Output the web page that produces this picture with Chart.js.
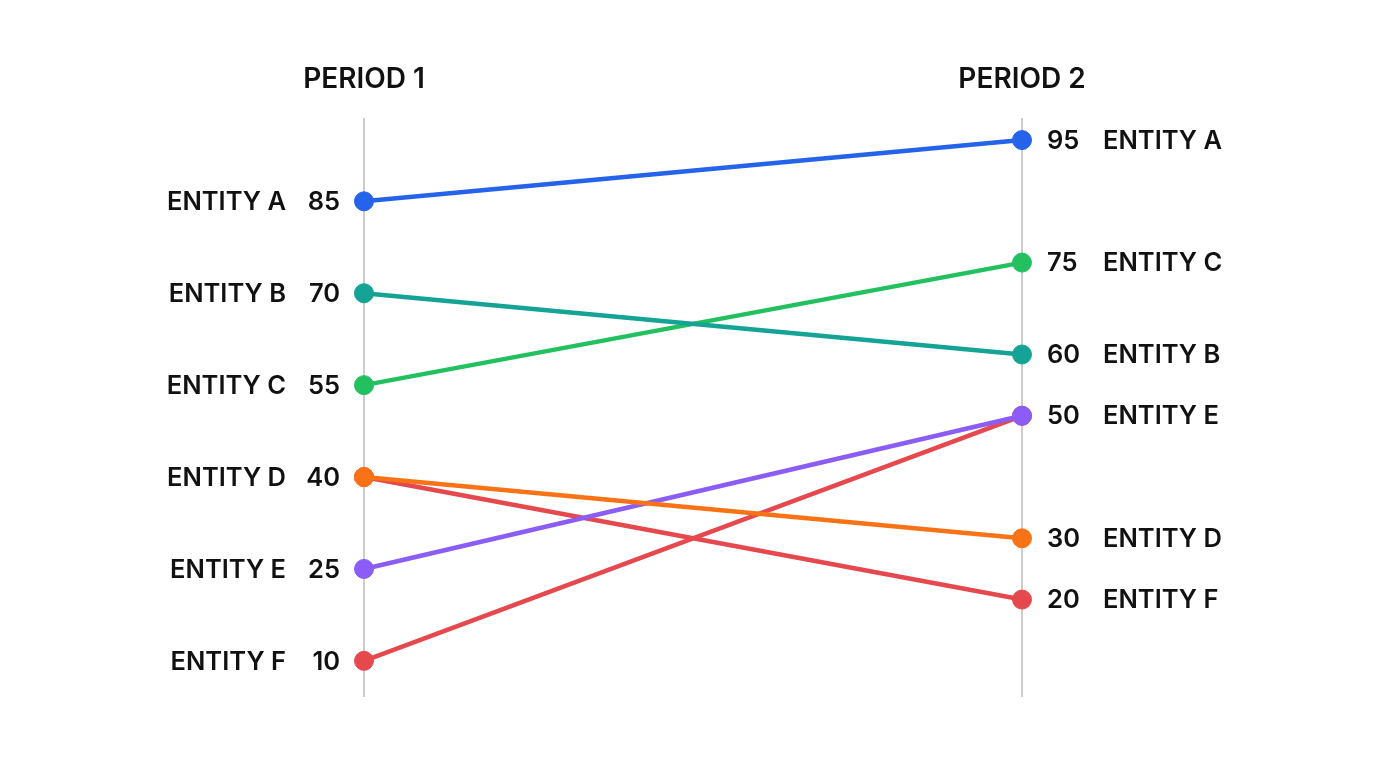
<!DOCTYPE html>
<html>
<head>
<meta charset="utf-8">
<script src="https://cdn.jsdelivr.net/npm/chart.js@4"></script>
<style>
  html, body { margin: 0; padding: 0; background: #ffffff; }
  #wrap { width: 1376px; height: 768px; position: relative; }
</style>
</head>
<body>
<div id="wrap"><canvas id="c"></canvas></div>
<script>
// ---- data ----
const periods = ['PERIOD 1', 'PERIOD 2'];
const entities = ['ENTITY A', 'ENTITY B', 'ENTITY C', 'ENTITY D', 'ENTITY E', 'ENTITY F'];
const period1Values = [85, 70, 55, 40, 25, 10];
const period2Values = [95, 60, 75, 30, 50, 20];
const seriesColors = ['#2563eb', '#14a394', '#22c05e', '#f97316', '#8b5cf6', '#e5484d'];
// the red line as it is drawn in the picture: 10 -> 50, then 40 -> 20 (gap between)
const entityFDrawnPeriod = [0, 1, null, 0, 1];
const entityFDrawnValues = [10, 50, null, 40, 20];

const datasets = entities.map((name, i) => {
  let data;
  if (i === 5) {
    data = entityFDrawnValues.map((v, k) => ({ x: entityFDrawnPeriod[k] === null ? 0.5 : entityFDrawnPeriod[k], y: v }));
  } else {
    data = [{ x: 0, y: period1Values[i] }, { x: 1, y: period2Values[i] }];
  }
  return {
    label: name,
    data,
    borderColor: seriesColors[i],
    backgroundColor: seriesColors[i],
    pointBackgroundColor: seriesColors[i],
    pointBorderColor: seriesColors[i],
    borderWidth: 4.5,
    pointRadius: 9.5,
    pointBorderWidth: 1,
    spanGaps: false,
    tension: 0,
    clip: false
  };
});

const FONT = '"Inter", "Roboto", sans-serif';

const labelPlugin = {
  id: 'slopeLabels',
  beforeDatasetsDraw(chart) {
    const { ctx, chartArea, scales } = chart;
    ctx.save();
    ctx.strokeStyle = '#cccccc';
    ctx.lineWidth = 2;
    [0, 1].forEach(p => {
      const x = scales.x.getPixelForValue(p);
      ctx.beginPath();
      ctx.moveTo(x, chartArea.top);
      ctx.lineTo(x, chartArea.bottom);
      ctx.stroke();
    });
    ctx.restore();
  },
  afterDatasetsDraw(chart) {
    const { ctx, scales } = chart;
    ctx.save();
    ctx.fillStyle = '#111111';
    ctx.textBaseline = 'middle';
    // headers
    ctx.font = '600 28px ' + FONT;
    ctx.textAlign = 'center';
    periods.forEach((p, k) => {
      ctx.fillText(p, scales.x.getPixelForValue(k), 80);
    });
    ctx.font = '600 25.5px ' + FONT;
    const xL = scales.x.getPixelForValue(0);
    const xR = scales.x.getPixelForValue(1);
    entities.forEach((name, i) => {
      const yL = scales.y.getPixelForValue(period1Values[i]) + 1;
      ctx.textAlign = 'right';
      ctx.fillText(String(period1Values[i]), xL - 24, yL);
      ctx.fillText(name, xL - 78, yL);
      const yR = scales.y.getPixelForValue(period2Values[i]) + 1;
      ctx.textAlign = 'left';
      ctx.fillText(String(period2Values[i]), xR + 25, yR);
      ctx.fillText(name, xR + 81, yR);
    });
    ctx.restore();
  }
};

new Chart(document.getElementById('c'), {
  type: 'line',
  data: { datasets },
  options: {
    responsive: true,
    maintainAspectRatio: false,
    animation: false,
    layout: { padding: { left: 364, right: 354, top: 118, bottom: 71 } },
    plugins: { legend: { display: false }, tooltip: { enabled: false } },
    scales: {
      x: { type: 'linear', min: 0, max: 1, display: false },
      y: { type: 'linear', min: 4.1, max: 98.6, display: false }
    }
  },
  plugins: [labelPlugin]
});
</script>
</body>
</html>
